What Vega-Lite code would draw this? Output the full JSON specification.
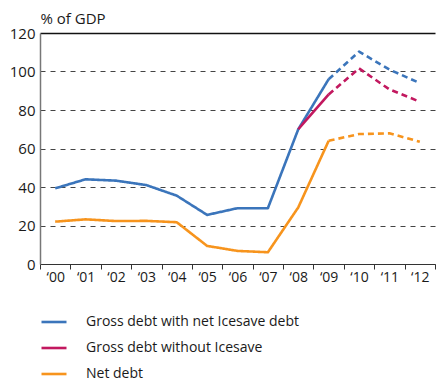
{
  "$schema": "https://vega.github.io/schema/vega-lite/v6.json",
  "autosize": "none",
  "width": 395,
  "height": 231,
  "padding": {"left": 40, "top": 33, "right": 1, "bottom": 117},
  "background": "white",
  "config": {
    "view": {"stroke": null},
    "font": "Open Sans",
    "axis": {"labelFont": "Open Sans", "titleFont": "Open Sans", "labelColor": "#1a1a1a", "titleColor": "#1a1a1a"},
    "legend": {"labelFont": "Open Sans"}
  },
  "data": {"values": [
      {"series": "Gross debt with net Icesave debt", "year": "‘00", "value": 39.3, "part": "actual"},
      {"series": "Gross debt with net Icesave debt", "year": "‘01", "value": 44, "part": "actual"},
      {"series": "Gross debt with net Icesave debt", "year": "‘02", "value": 43.3, "part": "actual"},
      {"series": "Gross debt with net Icesave debt", "year": "‘03", "value": 41, "part": "actual"},
      {"series": "Gross debt with net Icesave debt", "year": "‘04", "value": 35.5, "part": "actual"},
      {"series": "Gross debt with net Icesave debt", "year": "‘05", "value": 25.5, "part": "actual"},
      {"series": "Gross debt with net Icesave debt", "year": "‘06", "value": 29, "part": "actual"},
      {"series": "Gross debt with net Icesave debt", "year": "‘07", "value": 29, "part": "actual"},
      {"series": "Gross debt with net Icesave debt", "year": "‘08", "value": 70, "part": "actual"},
      {"series": "Gross debt with net Icesave debt", "year": "‘09", "value": 96, "part": "actual"},
      {"series": "Gross debt with net Icesave debt", "year": "‘09", "value": 96, "part": "forecast"},
      {"series": "Gross debt with net Icesave debt", "year": "‘10", "value": 110.3, "part": "forecast"},
      {"series": "Gross debt with net Icesave debt", "year": "‘11", "value": 101, "part": "forecast"},
      {"series": "Gross debt with net Icesave debt", "year": "‘12", "value": 94, "part": "forecast"},
      {"series": "Gross debt without Icesave", "year": "‘08", "value": 70, "part": "actual"},
      {"series": "Gross debt without Icesave", "year": "‘09", "value": 88.1, "part": "actual"},
      {"series": "Gross debt without Icesave", "year": "‘09", "value": 88.1, "part": "forecast"},
      {"series": "Gross debt without Icesave", "year": "‘10", "value": 101.6, "part": "forecast"},
      {"series": "Gross debt without Icesave", "year": "‘11", "value": 90.7, "part": "forecast"},
      {"series": "Gross debt without Icesave", "year": "‘12", "value": 84.3, "part": "forecast"},
      {"series": "Net debt", "year": "‘00", "value": 22, "part": "actual"},
      {"series": "Net debt", "year": "‘01", "value": 23.2, "part": "actual"},
      {"series": "Net debt", "year": "‘02", "value": 22.3, "part": "actual"},
      {"series": "Net debt", "year": "‘03", "value": 22.4, "part": "actual"},
      {"series": "Net debt", "year": "‘04", "value": 21.7, "part": "actual"},
      {"series": "Net debt", "year": "‘05", "value": 9.4, "part": "actual"},
      {"series": "Net debt", "year": "‘06", "value": 6.8, "part": "actual"},
      {"series": "Net debt", "year": "‘07", "value": 6.1, "part": "actual"},
      {"series": "Net debt", "year": "‘08", "value": 29.4, "part": "actual"},
      {"series": "Net debt", "year": "‘09", "value": 64, "part": "actual"},
      {"series": "Net debt", "year": "‘09", "value": 64, "part": "forecast"},
      {"series": "Net debt", "year": "‘10", "value": 67.5, "part": "forecast"},
      {"series": "Net debt", "year": "‘11", "value": 67.9, "part": "forecast"},
      {"series": "Net debt", "year": "‘12", "value": 63.5, "part": "forecast"}
  ]},
  "mark": {"type": "line", "strokeWidth": 2.6, "strokeCap": "butt", "strokeJoin": "round"},
  "encoding": {
    "x": {
      "field": "year", "type": "ordinal",
      "scale": {"type": "band", "paddingInner": 0, "paddingOuter": 0,
        "domain": ["‘00","‘01","‘02","‘03","‘04","‘05","‘06","‘07","‘08","‘09","‘10","‘11","‘12"]},
      "axis": {
        "title": null, "labelAngle": 0, "tickBand": "extent", "ticks": true, "tickSize": 5,
        "tickColor": "#333", "domainColor": "#333", "domainWidth": 1, "tickWidth": 1,
        "labelFontSize": 14, "labelPadding": 1, "grid": false, "labelOverlap": false
      }
    },
    "y": {
      "field": "value", "type": "quantitative",
      "scale": {"domain": [0, 120], "nice": false},
      "axis": {
        "values": [0, 20, 40, 60, 80, 100, 120],
        "labelOverlap": false,
        "title": "% of GDP", "titleAngle": 0, "titleAlign": "left", "titleX": 0, "titleY": -10,
        "titleBaseline": "alphabetic", "titleFontSize": 15, "titleFontWeight": "normal",
        "ticks": false, "labelPadding": 5, "labelFontSize": 15,
        "domainColor": "#777", "domainWidth": 1.5,
        "grid": true,
        "gridDash": {"condition": {"test": "datum.value === 120", "value": []}, "value": [5, 5]},
        "gridColor": {"condition": {"test": "datum.value === 120", "value": "#111"}, "value": "#444"},
        "gridWidth": {"condition": {"test": "datum.value === 120", "value": 1.5}, "value": 1}
      }
    },
    "color": {
      "field": "series", "type": "nominal",
      "scale": {
        "domain": ["Gross debt with net Icesave debt", "Gross debt without Icesave", "Net debt"],
        "range": ["#3b75bb", "#c2185f", "#f7941d"]
      },
      "legend": {
        "title": null, "orient": "none", "legendX": 0, "legendY": 275,
        "direction": "vertical", "symbolType": "stroke", "symbolSize": 625,
        "symbolStrokeWidth": 2.6, "labelFontSize": 14, "labelColor": "#1a1a1a",
        "labelOffset": 18, "rowPadding": 5, "labelLimit": 400
      }
    },
    "strokeDash": {
      "field": "part", "type": "nominal",
      "scale": {"domain": ["actual", "forecast"], "range": [[1, 0], [6, 4]]},
      "legend": null
    }
  }
}
